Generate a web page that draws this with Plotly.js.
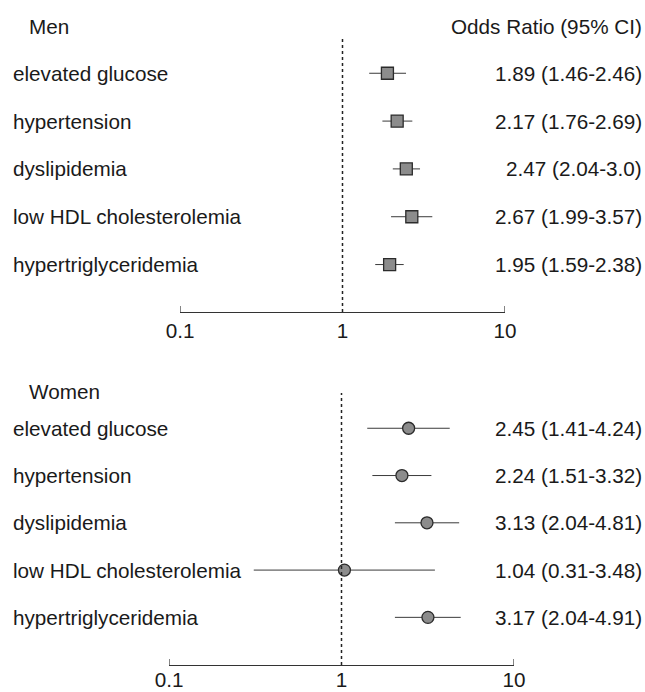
<!DOCTYPE html>
<html>
<head>
<meta charset="utf-8">
<script src="https://cdn.plot.ly/plotly-3.0.1.min.js"></script>
<style>
  html, body { margin: 0; padding: 0; background: #fff; }
  #chart { width: 645px; height: 692px; }
</style>
</head>
<body>
<div id="chart"></div>
<script>
// Risk factors, listed top to bottom in each panel
const categories = [
  "elevated glucose",
  "hypertension",
  "dyslipidemia",
  "low HDL cholesterolemia",
  "hypertriglyceridemia"
];

// Odds ratios with 95% confidence limits, kept as printed
const menOR   = ["1.89", "2.17", "2.47", "2.67", "1.95"];
const menLo   = ["1.46", "1.76", "2.04", "1.99", "1.59"];
const menHi   = ["2.46", "2.69", "3.0",  "3.57", "2.38"];

const womenOR = ["2.45", "2.24", "3.13", "1.04", "3.17"];
const womenLo = ["1.41", "1.51", "2.04", "0.31", "2.04"];
const womenHi = ["4.24", "3.32", "4.81", "3.48", "4.91"];

const tickVals = [0.1, 1, 10];
const tickText = ["0.1", "1", "10"];

const FONT = "Liberation Sans, Arial, Helvetica, sans-serif";
const TXT = "#1a1a1a";
const FS = 20.7;

const rowY = categories.map((c, i) => categories.length - i);

function panelTrace(orS, loS, hiS, xa, ya, symbol) {
  const or = orS.map(Number), lo = loS.map(Number), hi = hiS.map(Number);
  return {
    type: "scatter",
    mode: "markers",
    x: or,
    y: rowY,
    xaxis: xa,
    yaxis: ya,
    marker: {
      symbol: symbol,
      size: 12,
      color: "#8c8c8c",
      line: { color: "#2b2b2b", width: 1.3 }
    },
    error_x: {
      type: "data",
      symmetric: false,
      array: hi.map((h, i) => h - or[i]),
      arrayminus: lo.map((l, i) => or[i] - l),
      color: "#3a3a3a",
      thickness: 1,
      width: 0
    },
    cliponaxis: false,
    hoverinfo: "skip",
    showlegend: false
  };
}

const traces = [
  panelTrace(menOR, menLo, menHi, "x", "y", "square"),
  panelTrace(womenOR, womenLo, womenHi, "x2", "y2", "circle")
];

function xAxis(domain, anchor, standoff) {
  return {
    type: "log",
    domain: domain,
    anchor: anchor,
    range: [-1, 1],
    tickvals: tickVals,
    ticktext: tickText,
    ticks: "",
    ticklabelstandoff: standoff,
    showline: true,
    linecolor: "#333",
    linewidth: 1,
    showgrid: false,
    zeroline: false,
    tickfont: { family: FONT, size: FS, color: TXT },
    fixedrange: true
  };
}

function yAxis(domain, range, anchor) {
  return {
    domain: domain,
    range: range,
    anchor: anchor,
    visible: false,
    showgrid: false,
    zeroline: false,
    fixedrange: true
  };
}

const annotations = [];
function panelText(orS, loS, hiS, yref) {
  categories.forEach((c, i) => {
    annotations.push({
      text: c, xref: "paper", yref: yref, x: 11 / 645, y: rowY[i],
      xanchor: "left", yanchor: "middle", showarrow: false,
      font: { family: FONT, size: FS, color: TXT }
    });
    annotations.push({
      text: orS[i] + " (" + loS[i] + "-" + hiS[i] + ")",
      xref: "paper", yref: yref, x: 644 / 645, y: rowY[i],
      xanchor: "right", yanchor: "middle", showarrow: false,
      font: { family: FONT, size: FS, color: TXT }
    });
  });
}
panelText(menOR, menLo, menHi, "y");
panelText(womenOR, womenLo, womenHi, "y2");

annotations.push(
  { text: "Men", xref: "paper", yref: "paper", x: 27 / 645, y: 1 - 27 / 692,
    xanchor: "left", yanchor: "middle", showarrow: false,
    font: { family: FONT, size: FS, color: TXT } },
  { text: "Odds Ratio (95% CI)", xref: "paper", yref: "paper", x: 644 / 645, y: 1 - 26 / 692,
    xanchor: "right", yanchor: "middle", showarrow: false,
    font: { family: FONT, size: FS, color: TXT } },
  { text: "Women", xref: "paper", yref: "paper", x: 27 / 645, y: 1 - 391 / 692,
    xanchor: "left", yanchor: "middle", showarrow: false,
    font: { family: FONT, size: FS, color: TXT } }
);

const shapes = [];
// Dashed reference line at OR = 1 and short upward end ticks in each panel
[["x", "y"], ["x2", "y2"]].forEach(([xa, ya]) => {
  shapes.push({
    type: "line", xref: xa, yref: ya + " domain", x0: 1, x1: 1, y0: 0, y1: 1,
    line: { color: "#222", width: 1.5, dash: "3px,3px" }
  });
  [tickVals[0], tickVals[tickVals.length - 1]].forEach(v => {
    shapes.push({
      type: "line", xref: xa, yref: ya + " domain", ysizemode: "pixel", yanchor: 0,
      x0: v, x1: v, y0: 0, y1: 6,
      line: { color: "#333", width: 1.2 }
    });
  });
});

const layout = {
  width: 645,
  height: 692,
  margin: { l: 0, r: 0, t: 0, b: 0 },
  paper_bgcolor: "#fff",
  plot_bgcolor: "rgba(0,0,0,0)",
  showlegend: false,
  xaxis: xAxis([180 / 645, 505 / 645], "y", 0),
  yaxis: yAxis([1 - 312 / 692, 1 - 38 / 692], [0.008, 5.737], "x"),
  xaxis2: xAxis([169 / 645, 514 / 645], "y2", -4),
  yaxis2: yAxis([1 - 665 / 692, 1 - 393 / 692], [-0.008, 5.746], "x2"),
  annotations: annotations,
  shapes: shapes
};

Plotly.newPlot("chart", traces, layout, { displayModeBar: false, staticPlot: true });
</script>
</body>
</html>
